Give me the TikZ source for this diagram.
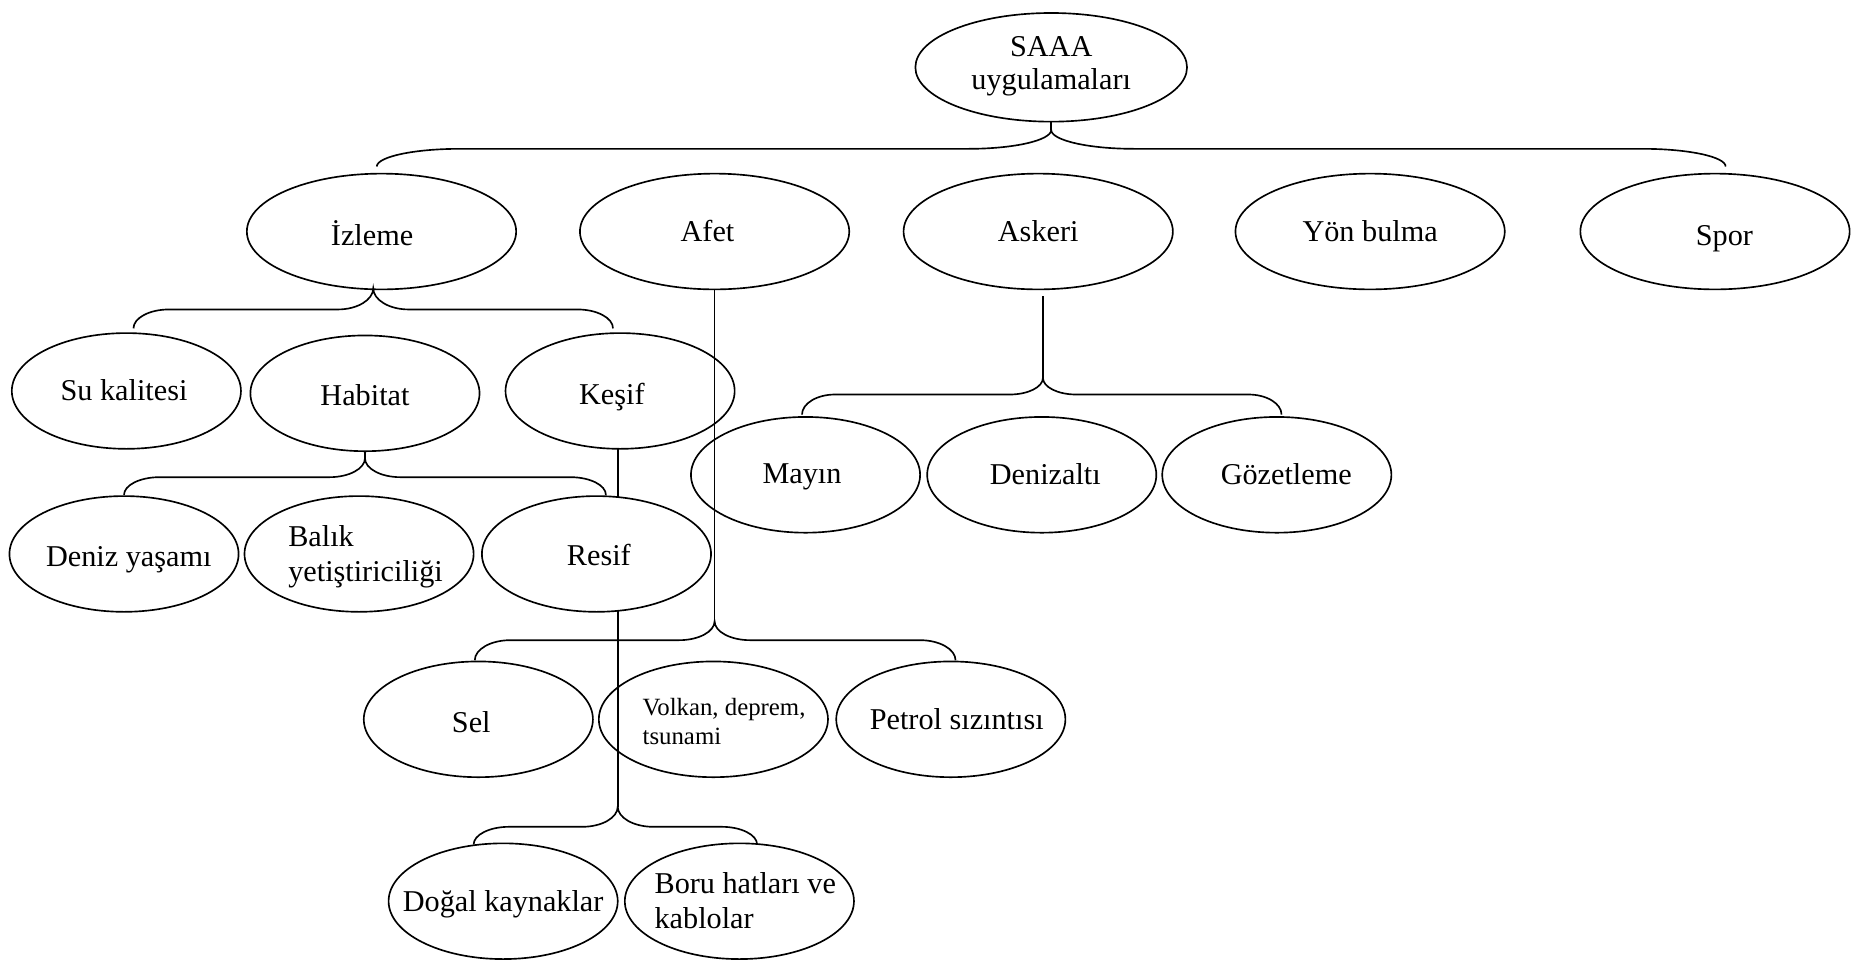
\documentclass[tikz,border=0pt]{standalone}
\usepackage{fontspec}
\setmainfont{Liberation Serif}
\usetikzlibrary{shapes.geometric}
% text of fixed-size ovals: x offset, y offset (down), text
\newcommand\TT[3]{\makebox[0pt]{\hspace*{#1}\hspace*{#1}\raisebox{\dimexpr-0.33em-#2\relax}[0pt][0pt]{#3}}}
\newcommand\twol[2]{\begin{tabular}{@{}l@{}}#1\\#2\end{tabular}}
\newcommand\curlybrace[7]{% xL xT xR yTip yH yEnd r
  \draw (#1,#6) .. controls (#1,{#5+0.45*(#6-#5)}) and ({#1+0.45*#7},#5) .. ({#1+#7},#5)
    -- ({#2-#7},#5) .. controls ({#2-0.45*#7},#5) and (#2,{#4+0.55*(#5-#4)}) .. (#2,#4)
    .. controls (#2,{#4+0.55*(#5-#4)}) and ({#2+0.45*#7},#5) .. ({#2+#7},#5)
    -- ({#3-#7},#5) .. controls ({#3-0.45*#7},#5) and (#3,{#5+0.45*(#6-#5)}) .. (#3,#6);}
\begin{document}
\begin{tikzpicture}[x=0.5pt,y=-0.5pt,line width=0.7pt,
  oval/.style={ellipse,draw,fill=white,inner sep=0pt,outer sep=0pt,minimum width=97pt,minimum height=49pt,
    font=\fontsize{12.8}{15}\selectfont},
  topoval/.style={oval,minimum width=114pt,minimum height=49pt},
  small/.style={font=\fontsize{10.5}{12.3}\selectfont}]
\fill[white] (0,0) rectangle (1568,815);
\useasboundingbox (0,0) rectangle (1568,815);
% nodes
\node[oval,minimum width=115pt,minimum height=46pt] (saaa) at (890,57)
  {\TT{0pt}{-2pt}{\begin{tabular}{@{}c@{}}SAAA\\[-1pt]uygulamaları\end{tabular}}};
\node[topoval] (izleme) at (323,196) {\TT{-4pt}{1.5pt}{İzleme}};
\node[topoval] (afet) at (605,196) {\TT{-3pt}{0pt}{Afet}};
\node[topoval] (askeri) at (879,196) {\TT{0pt}{0pt}{Askeri}};
\node[topoval] (yon) at (1160,196) {\TT{0pt}{0pt}{Yön bulma}};
\node[topoval] (spor) at (1452,196) {\TT{4pt}{1.5pt}{Spor}};
\node[oval] (sukal) at (107,331) {\TT{-1pt}{0pt}{Su kalitesi}};
\node[oval] (habitat) at (309,333) {\TT{0pt}{1pt}{Habitat}};
\node[oval] (kesif) at (525,331) {\TT{-3.5pt}{1.5pt}{Keşif}};
\node[oval] (deniz) at (105,469) {\TT{2pt}{1pt}{Deniz yaşamı}};
\node[oval] (balik) at (304,469) {\TT{2.75pt}{0pt}{\twol{Balık}{yetiştiriciliği}}};
\node[oval] (mayin) at (682,402) {\TT{-1.5pt}{-0.5pt}{Mayın}};
\node[oval] (denizalti) at (882,402) {\TT{1.5pt}{0pt}{Denizaltı}};
\node[oval] (gozet) at (1081,402) {\TT{4pt}{0pt}{Gözetleme}};
\node[oval] (sel) at (405,609) {\TT{-3pt}{1.5pt}{Sel}};
\node[oval,small] (volkan) at (604,609) {\TT{4.5pt}{1.5pt}{\twol{Volkan, deprem,}{tsunami}}};
\node[oval] (petrol) at (805,609) {\TT{2.5pt}{0pt}{Petrol sızıntısı}};
\node[oval] (dogal) at (426,763) {\TT{0pt}{0pt}{Doğal kaynaklar}};
\node[oval] (boru) at (626,763) {\TT{2.5pt}{0pt}{\twol{Boru hatları ve}{kablolar}}};
% brace tips
\coordinate (tS) at (890,110);
\coordinate (tI) at (316,244);
\coordinate (tH) at (309,388);
\coordinate (tA) at (605,526);
\coordinate (tK) at (883,320);
\coordinate (tE) at (523,683);
% connectors
\draw (saaa.south) -- (tS);
\draw (afet.south) -- (tA);
\draw[shorten <=3pt] (askeri.south -| tK) -- (tK);
\draw (habitat.south) -- (tH);
\draw (kesif.south -| tE) -- (tE);
% braces
\curlybrace{319}{890}{1461}{110}{126}{141}{70}
\curlybrace{113}{316}{519}{244}{262}{278}{30}
\curlybrace{105}{309}{513}{388}{404}{419}{30}
\curlybrace{679}{883}{1085}{320}{334}{351}{28}
\curlybrace{402}{605}{809}{526}{542}{559}{30}
\curlybrace{401}{523}{641}{683}{700}{715}{30}
% Resif drawn last (covers the Keşif line)
\node[oval] (resif) at (505,469) {\TT{1pt}{0.5pt}{Resif}};
\end{tikzpicture}
\end{document}
